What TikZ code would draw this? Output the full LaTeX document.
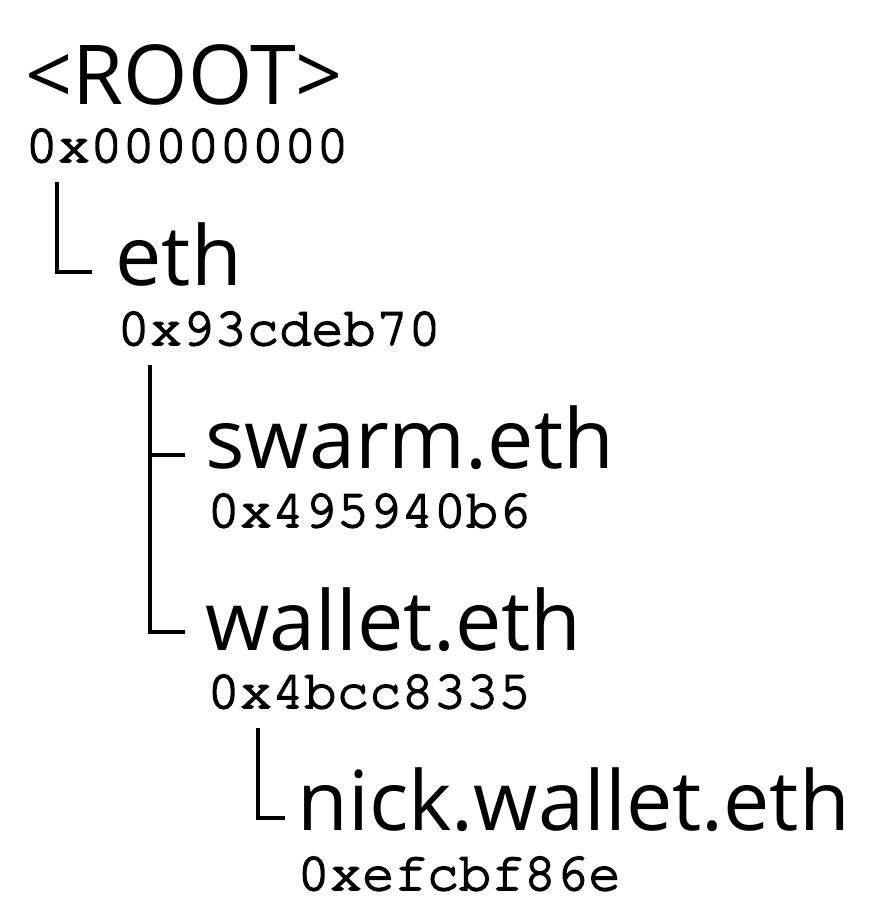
\documentclass[tikz,border=0pt]{standalone}
\usepackage[T1]{fontenc}
\usepackage{fontspec}
\setmainfont{Open Sans}
\newcommand{\hexfont}{\fontencoding{T1}\fontfamily{pcr}\selectfont}
\tikzset{every picture/.style={line width=0.75pt}}
\tikzset{
  namelabel/.style={anchor=base west, inner sep=0pt, text depth=0pt, font=\fontsize{62}{62}\selectfont},
  addrlabel/.style={anchor=base west, inner sep=0pt, text height=0.6em, text depth=0pt, font=\hexfont\fontsize{40.4}{40.4}\selectfont,
    execute at begin node={\special{pdf:literal direct 2 Tr 1.3 w}},
    execute at end node={\special{pdf:literal direct 0 Tr}}},
  branch/.style={line width=2.6pt}
}

\begin{document}
\begin{tikzpicture}[x=0.75pt,y=0.75pt,yscale=-1,xscale=1]
\useasboundingbox (0,0) rectangle (894,920);

% Text Node
\node [namelabel] (root) at (25,105) {<ROOT>};
\node [addrlabel] (rootaddr) at (25,162) {0x00000000};
% Text Node
\node [namelabel] (eth) at (115,285) {eth};
\node [addrlabel] (ethaddr) at (117,345) {0x93cdeb70};
% Text Node
\node [namelabel] (swarm) at (205,468) {swarm.eth};
\node [addrlabel] (swarmaddr) at (207,527) {0x495940b6};
% Text Node
\node [namelabel] (wallet) at (205,650) {wallet.eth};
\node [addrlabel] (walletaddr) at (207,708) {0x4bcc8335};
% Text Node
\node [namelabel] (nick) at (297,830) {nick.wallet.eth};
\node [addrlabel] (nickaddr) at (297,890) {0xefcbf86e};

\coordinate (ethdrop) at ([shift={(33,20)}]ethaddr.base west);
\coordinate (swarmjoin) at ([shift={(-20,-13)}]swarm.base west);

%Straight Lines
\draw [branch] ([shift={(32,20)}]rootaddr.base west) |- ([shift={(-23,-13)}]eth.base west);
%Straight Lines
\draw [branch] (ethdrop) |- ([shift={(-20,-18)}]wallet.base west);
\draw [branch] (ethdrop |- swarmjoin) -- (swarmjoin);
%Straight Lines
\draw [branch] ([shift={(51,20)}]walletaddr.base west) |- ([shift={(-12,-12)}]nick.base west);

\end{tikzpicture}
\end{document}
